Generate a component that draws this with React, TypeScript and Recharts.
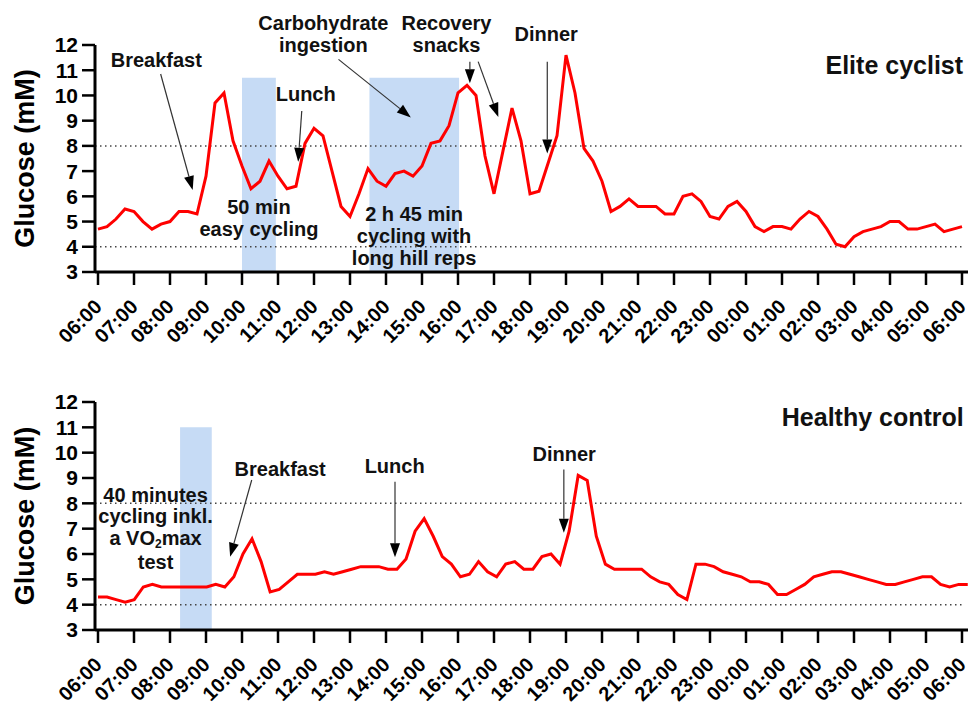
import React from 'react';
import { LineChart, Line, XAxis, YAxis, ReferenceArea, ReferenceLine, ReferenceDot } from 'recharts';

// ---------- data ----------
const hourLabels = [
  '06:00', '07:00', '08:00', '09:00', '10:00', '11:00', '12:00', '13:00', '14:00',
  '15:00', '16:00', '17:00', '18:00', '19:00', '20:00', '21:00', '22:00', '23:00',
  '00:00', '01:00', '02:00', '03:00', '04:00', '05:00', '06:00',
];
const glucoseTicks = [3, 4, 5, 6, 7, 8, 9, 10, 11, 12];

// CGM readings (mM), one every sampling interval starting at 06:00
const eliteGlucose = [
  4.7, 4.8, 5.1, 5.5, 5.4, 5.0, 4.7, 4.9, 5.0, 5.4, 5.4, 5.3,
  6.8, 9.7, 10.1, 8.2, 7.2, 6.3, 6.6, 7.4, 6.8, 6.3, 6.4,
  8.1, 8.7, 8.4, 7.0, 5.6, 5.2, 6.1, 7.1, 6.6, 6.4, 6.9, 7.0, 6.8, 7.2, 8.1,
  8.2, 8.8, 10.1, 10.4, 10.0, 7.6, 6.1, 7.8, 9.5, 8.2, 6.1, 6.2, 7.3, 8.4, 11.6, 10.1, 7.9, 7.4, 6.6,
  5.4, 5.6, 5.9, 5.6, 5.6, 5.6, 5.3, 5.3, 6.0, 6.1, 5.8, 5.2, 5.1, 5.6, 5.8, 5.4,
  4.8, 4.6, 4.8, 4.8, 4.7, 5.1, 5.4, 5.2, 4.7, 4.1, 4.0, 4.4, 4.6, 4.7, 4.8, 5.0,
  5.0, 4.7, 4.7, 4.8, 4.9, 4.6, 4.7, 4.8,
];
const controlGlucose = [
  4.3, 4.3, 4.2, 4.1, 4.2,
  4.7, 4.8, 4.7, 4.7, 4.7, 4.7, 4.7, 4.7, 4.8, 4.7,
  5.1, 6.0, 6.6, 5.7, 4.5,
  4.6, 4.9, 5.2, 5.2, 5.2, 5.3, 5.2, 5.3, 5.4, 5.5,
  5.5, 5.5, 5.4, 5.4, 5.8, 6.9, 7.4, 6.7, 5.9, 5.6,
  5.1, 5.2, 5.7, 5.3, 5.1,
  5.6, 5.7, 5.4, 5.4, 5.9, 6.0, 5.6, 6.9, 9.1, 8.9,
  6.7, 5.6, 5.4, 5.4, 5.4, 5.4, 5.1, 4.9, 4.8, 4.4,
  4.2, 5.6, 5.6, 5.5,
  5.3, 5.2, 5.1, 4.9, 4.9, 4.8, 4.4, 4.4, 4.6, 4.8,
  5.1, 5.2, 5.3, 5.3, 5.2, 5.1, 5.0, 4.9, 4.8, 4.8,
  4.9, 5.0, 5.1, 5.1, 4.8, 4.7, 4.8, 4.8,
];
const eliteIntervalMin = 15;
const controlIntervalMin = 15.1;

// exercise bouts: start / end (hours after 06:00) and top of band (mM)
const eliteExercise = [
  { from: 4.0, to: 4.94, top: 10.7 },
  { from: 7.54, to: 10.03, top: 10.7 },
];
const controlExercise = [{ from: 2.28, to: 3.16, top: 11.0 }];

const eliteData = eliteGlucose.map((g, i) => ({ t: (i * eliteIntervalMin) / 60, g }));
const controlData = controlGlucose.map((g, i) => ({ t: (i * controlIntervalMin) / 60, g }));
const hourTicks = hourLabels.map((_, i) => i);

// ---------- styling / layout ----------
const FONT = "'Liberation Sans', Arial, Helvetica, sans-serif";
const X_MIN = -0.0833;
const X_MAX = 24.1667;
const BAND = '#c6dbf5';

type Note = {
  lines: React.ReactNode[];
  x: number;
  y: number;
  anchor?: 'middle' | 'end';
  size?: number;
  gaps?: number[];
};
type Arrow = { from: [number, number]; to: [number, number] };

const vo2 = (
  <>
    a VO<tspan fontSize={12} dy={3}>2</tspan>
    <tspan dy={-3}>max</tspan>
  </>
);

const eliteNotes: Note[] = [
  { lines: ['Breakfast'], x: 1.62, y: 11.4 },
  { lines: ['50 min', 'easy cycling'], x: 4.47, y: 5.16 },
  { lines: ['Lunch'], x: 5.77, y: 10.07 },
  { lines: ['Carbohydrate', 'ingestion'], x: 6.26, y: 12.44 },
  { lines: ['2 h 45 min', 'cycling with', 'long hill reps'], x: 8.78, y: 4.42 },
  { lines: ['Recovery', 'snacks'], x: 9.68, y: 12.44 },
  { lines: ['Dinner'], x: 12.45, y: 12.45 },
  { lines: ['Elite cyclist'], x: 24.03, y: 11.21, anchor: 'end', size: 25 },
];
const eliteArrows: Arrow[] = [
  { from: [1.74, 10.85], to: [2.63, 6.25] },
  { from: [5.66, 9.38], to: [5.56, 7.37] },
  { from: [6.68, 11.43], to: [8.69, 9.13] },
  { from: [10.33, 11.34], to: [10.33, 10.48] },
  { from: [10.56, 11.34], to: [11.12, 9.15] },
  { from: [12.48, 11.34], to: [12.48, 7.7] },
];
const controlNotes: Note[] = [
  { lines: ['40 minutes', 'cycling inkl.', vo2, 'test'], x: 1.6, y: 7.03, gaps: [21.5, 21.5, 24] },
  { lines: ['Breakfast'], x: 5.06, y: 9.35 },
  { lines: ['Lunch'], x: 8.24, y: 9.47 },
  { lines: ['Dinner'], x: 12.95, y: 9.95 },
  { lines: ['Healthy control'], x: 24.05, y: 11.42, anchor: 'end', size: 25 },
];
const controlArrows: Arrow[] = [
  { from: [4.27, 8.92], to: [3.67, 5.89] },
  { from: [8.25, 8.85], to: [8.25, 5.87] },
  { from: [12.94, 9.34], to: [12.94, 6.84] },
];

// ---------- components ----------
function XTick(props: any) {
  const { x, y, payload } = props;
  return (
    <g transform={`translate(${x + 5},${y + 21}) rotate(-45)`}>
      <text x={0} y={0} textAnchor="end" fontSize={20} fontWeight="bold" fontFamily={FONT} fill="#000">
        {hourLabels[payload.value]}
      </text>
    </g>
  );
}

function YLabel(props: any) {
  const vb = props.viewBox || { x: 0, y: 0, width: 95, height: 227 };
  const cx = vb.x + 34;
  const cy = vb.y + vb.height / 2;
  return (
    <text
      x={cx}
      y={cy}
      transform={`rotate(-90, ${cx}, ${cy})`}
      textAnchor="middle"
      fontSize={27}
      fontWeight="bold"
      fontFamily={FONT}
      fill="#000"
    >
      Glucose (mM)
    </text>
  );
}

function NoteShape(props: any) {
  const { cx, cy, note } = props;
  const size = note.size || 20;
  const n = note.lines.length;
  const gaps: number[] = note.gaps || Array(Math.max(n - 1, 0)).fill(22);
  const total = gaps.reduce((s: number, g: number) => s + g, 0);
  const y0 = cy - total / 2 + 0.36 * size;
  return (
    <text
      x={cx}
      y={y0}
      textAnchor={note.anchor || 'middle'}
      fontSize={size}
      fontWeight="bold"
      fontFamily={FONT}
      fill="#111"
    >
      {note.lines.map((l: React.ReactNode, k: number) => (
        <tspan key={k} x={cx} dy={k === 0 ? 0 : gaps[k - 1]}>
          {l}
        </tspan>
      ))}
    </text>
  );
}

function ArrowShape(props: any) {
  const { x1, y1, x2, y2 } = props;
  const dx = x2 - x1;
  const dy = y2 - y1;
  const len = Math.sqrt(dx * dx + dy * dy) || 1;
  const ux = dx / len;
  const uy = dy / len;
  const hl = 14;
  const hw = 5;
  const bx = x2 - ux * hl;
  const by = y2 - uy * hl;
  return (
    <g>
      <line x1={x1} y1={y1} x2={bx} y2={by} stroke="#333" strokeWidth={1.2} />
      <polygon
        points={`${x2},${y2} ${bx - uy * hw},${by + ux * hw} ${bx + uy * hw},${by - ux * hw}`}
        fill="#000"
      />
    </g>
  );
}

type PanelProps = {
  data: { t: number; g: number }[];
  bands: { from: number; to: number; top: number }[];
  notes: Note[];
  arrows: Arrow[];
  top: number;
  axisHeight: number;
};

function Panel({ data, bands, notes, arrows, top, axisHeight }: PanelProps) {
  return (
    <LineChart width={974} height={353} data={data} margin={{ top, right: 6, bottom: 0, left: 0 }}>
      <XAxis
        type="number"
        dataKey="t"
        domain={[X_MIN, X_MAX]}
        allowDataOverflow
        ticks={hourTicks}
        interval={0}
        height={axisHeight}
        tickSize={13}
        tickMargin={2}
        axisLine={{ stroke: '#000', strokeWidth: 3 }}
        tickLine={{ stroke: '#000', strokeWidth: 2.5 }}
        tick={<XTick />}
      />
      <YAxis
        type="number"
        domain={[3, 12]}
        allowDataOverflow
        ticks={glucoseTicks}
        interval={0}
        width={95}
        tickSize={13}
        tickMargin={4}
        axisLine={{ stroke: '#000', strokeWidth: 3 }}
        tickLine={{ stroke: '#000', strokeWidth: 2.5 }}
        tick={{ fill: '#000', fontSize: 21, fontWeight: 'bold', fontFamily: FONT }}
        label={(p: any) => <YLabel {...p} />}
      />
      {bands.map((b, i) => (
        <ReferenceArea
          key={`b${i}`}
          x1={b.from}
          x2={b.to}
          y1={3}
          y2={b.top}
          fill={BAND}
          fillOpacity={1}
          stroke="none"
          ifOverflow="visible"
        />
      ))}
      {[8, 4].map((v) => (
        <ReferenceLine
          key={`r${v}`}
          segment={[
            { x: X_MIN, y: v },
            { x: 24.03, y: v },
          ]}
          stroke="#444"
          strokeWidth={1.5}
          strokeDasharray="1.5 3.5"
          ifOverflow="visible"
        />
      ))}
      <Line
        type="linear"
        dataKey="g"
        stroke="#ff0000"
        strokeWidth={3}
        dot={false}
        activeDot={false}
        isAnimationActive={false}
      />
      {arrows.map((a, i) => (
        <ReferenceLine
          key={`a${i}`}
          segment={[
            { x: a.from[0], y: a.from[1] },
            { x: a.to[0], y: a.to[1] },
          ]}
          ifOverflow="visible"
          shape={(p: any) => <ArrowShape {...p} />}
        />
      ))}
      {notes.map((n, i) => (
        <ReferenceDot
          key={`n${i}`}
          x={n.x}
          y={n.y}
          r={0}
          ifOverflow="visible"
          shape={(p: any) => <NoteShape {...p} note={n} />}
        />
      ))}
    </LineChart>
  );
}

export default function App() {
  return (
    <div style={{ position: 'absolute', left: 0, top: 0, width: 974, height: 706, background: '#fff' }}>
      <div style={{ position: 'absolute', left: 0, top: 0 }}>
        <Panel data={eliteData} bands={eliteExercise} notes={eliteNotes} arrows={eliteArrows} top={45} axisHeight={81} />
      </div>
      <div style={{ position: 'absolute', left: 0, top: 353 }}>
        <Panel data={controlData} bands={controlExercise} notes={controlNotes} arrows={controlArrows} top={49} axisHeight={76} />
      </div>
    </div>
  );
}
